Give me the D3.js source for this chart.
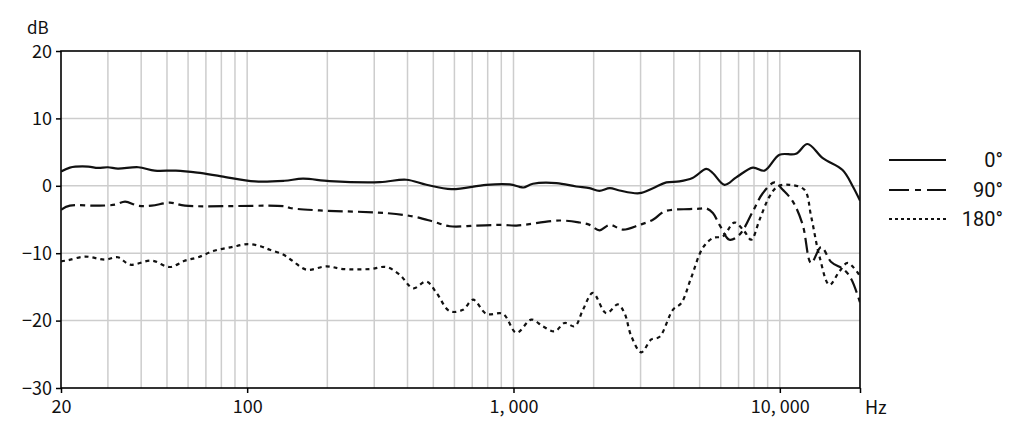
<!DOCTYPE html>
<html><head><meta charset="utf-8">
<script src="https://cdn.jsdelivr.net/npm/d3@7"></script>
<style>body{margin:0;background:#fff}svg{display:block}text{font-family:"Noto Sans CJK JP","Noto Sans",sans-serif;fill:#111}</style>
</head><body>
<svg id="c" width="1024" height="435"></svg>
<script>
// frequency (Hz) and level (dB) pairs
const freq0 = [20,21.6,25.3,27.5,30,32.7,39,45,54,65,80,107,138,162,204,315,396,471,585,790,968,1054,1090,1183,1450,1720,1930,2100,2300,2500,2970,3340,3750,4200,4700,5300,5600,6200,6860,7920,8760,9970,11500,12700,14500,17200,18800,20000];
const db0   = [2.1,2.7,2.85,2.65,2.75,2.55,2.75,2.25,2.25,1.95,1.4,0.65,0.75,1.05,0.7,0.55,0.9,0.15,-0.5,0.15,0.2,-0.15,-0.25,0.3,0.4,-0.1,-0.35,-0.75,-0.35,-0.7,-1.1,-0.35,0.5,0.65,1.15,2.5,1.9,0.15,1.25,2.7,2.25,4.6,4.75,6.2,4.1,2.35,-0.1,-2.2];
const freq90 = [20,21.6,26.8,31.9,34.8,38.9,43.8,51.3,58.4,138.5,145,187,333,420,499,576,726,910,1026,1490,1770,1932,2104,2296,2576,2974,3338,3692,4580,4995,5294,5606,5938,6473,7056,7918,8630,9550,10260,11180,12190,13110,14300,15590,17490,18580,20000];
const db90   = [-3.55,-2.95,-2.95,-2.8,-2.35,-2.95,-2.95,-2.5,-2.95,-3.05,-3.3,-3.65,-4.05,-4.55,-5.3,-6.0,-5.9,-5.8,-5.9,-5.15,-5.45,-5.8,-6.6,-5.8,-6.5,-5.8,-5.05,-3.8,-3.45,-3.4,-3.35,-4.05,-5.8,-8.0,-7.25,-3.8,-1.1,0.5,-0.6,-2.3,-5.8,-11.45,-9.1,-11.3,-12.5,-13.9,-17.3];
const freq180 = [20,21.2,24.6,29.3,32.7,36.3,43.8,51.3,58.4,65.5,75.7,87.4,100.9,113,121.7,136.5,148.8,167,198.6,229,289,333,374,420,471,514,576,646,705,791,913,1026,1167,1290,1428,1556,1698,1823,1986,2231,2466,2612,2768,3018,3290,3536,3967,4266,4650,5140,5606,6110,6760,7370,7812,8390,9140,9820,10870,12370,13110,14090,15350,16740,17990,20000];
const db180   = [-11.2,-11.05,-10.5,-10.95,-10.6,-11.7,-11.1,-12.05,-11.1,-10.6,-9.6,-9.1,-8.65,-9.0,-9.5,-10.2,-11.2,-12.45,-11.95,-12.35,-12.35,-12.05,-13.2,-15.2,-14.2,-15.9,-18.6,-18.4,-16.9,-19.0,-19.0,-21.8,-19.85,-20.85,-21.6,-20.35,-20.85,-18.4,-15.9,-18.9,-17.6,-18.9,-22.3,-24.7,-22.8,-22.4,-18.4,-17.4,-13.6,-9.2,-7.75,-7.5,-5.45,-6.8,-8.0,-5.05,-1.6,-0.1,0.15,-0.6,-4.55,-10.5,-14.7,-12.7,-11.45,-13.4];
const seriesNames = ["0°","90°","180°"];
const yTicks = [20,10,0,-10,-20,-30];
const xLabelVals = [20,100,1000,10000];
const xLabels = ["20","100","1, 000","10, 000"];
const xGrid = [30,40,50,60,70,80,90,100,200,300,400,500,600,700,800,900,1000,2000,3000,4000,5000,6000,7000,8000,9000,10000];

const svg = d3.select("#c");
const L=61,R=860,T=51,B=388;
const x = d3.scaleLog().domain([20,20000]).range([L,R]);
const y = d3.scaleLinear().domain([-30,20]).range([B,T]);

const g = svg.append("g");
g.selectAll(".gx").data(xGrid).join("line")
 .attr("x1",d=>x(d)).attr("x2",d=>x(d)).attr("y1",T).attr("y2",B)
 .attr("stroke","#cdcdcd").attr("stroke-width",1.5);
g.selectAll(".gy").data([10,0,-10,-20]).join("line")
 .attr("x1",L).attr("x2",R).attr("y1",d=>y(d)).attr("y2",d=>y(d))
 .attr("stroke","#cdcdcd").attr("stroke-width",1.5);

// axes
const yAxis = d3.axisLeft(y).tickValues(yTicks).tickSize(5).tickFormat(d=>d<0?"\u2212"+(-d):d);
const ya = svg.append("g").attr("transform",`translate(${L},0)`).call(yAxis);
ya.select(".domain").remove();
ya.selectAll("line").attr("stroke","#000").attr("stroke-width",1.5);
ya.selectAll("text").attr("font-size",18).attr("x",-9).attr("dy","0.34em")
 .style("font-family",'"Noto Sans CJK JP",sans-serif').attr("fill","#111");

const xAxis = d3.axisBottom(x).tickValues(xLabelVals.concat([20000])).tickSize(5)
 .tickFormat(d=>{const i=xLabelVals.indexOf(d);return i>=0?xLabels[i]:"";});
const xa = svg.append("g").attr("transform",`translate(0,${B})`).call(xAxis);
xa.select(".domain").remove();
xa.selectAll("line").attr("stroke","#000").attr("stroke-width",1.5);
xa.selectAll("text").attr("font-size",18).attr("y",12).attr("dy","0.71em")
 .style("font-family",'"Noto Sans CJK JP",sans-serif').attr("fill","#111");

svg.append("rect").attr("x",L).attr("y",T).attr("width",R-L).attr("height",B-T)
 .attr("fill","none").attr("stroke","#000").attr("stroke-width",1.6);

svg.append("text").attr("x",27).attr("y",34).attr("font-size",17).text("dB");
svg.append("text").attr("x",865).attr("y",414).attr("font-size",18).text("Hz");

const line = d3.line().x(d=>x(d[0])).y(d=>y(d[1])).curve(d3.curveCatmullRom.alpha(0.5));
const zip=(f,v)=>f.map((d,i)=>[d,v[i]]);
const series = [
 {data:zip(freq0,db0),dash:null},
 {data:zip(freq90,db90),dash:"15,5,5,5"},
 {data:zip(freq180,db180),dash:"4,4"}
];
const clip = svg.append("clipPath").attr("id","pc").append("rect").attr("x",L).attr("y",T).attr("width",R-L).attr("height",B-T);
svg.append("g").attr("clip-path","url(#pc)").selectAll("path").data(series).join("path")
 .attr("d",d=>line(d.data)).attr("fill","none").attr("stroke","#111").attr("stroke-width",2.2)
 .attr("stroke-dasharray",d=>d.dash);

// legend
const legY=[160,190,219];
const legDash=[null,"20,6,6,6","3,3"];
const lg = svg.append("g");
seriesNames.forEach((n,i)=>{
  lg.append("line").attr("x1",889).attr("x2",946).attr("y1",legY[i]).attr("y2",legY[i])
   .attr("stroke","#111").attr("stroke-width",i==2?2:2).attr("stroke-dasharray",legDash[i]);
  lg.append("text").attr("x",1003).attr("y",legY[i]).attr("dy","0.36em").attr("text-anchor","end")
   .attr("font-size",20).style("font-family",'Roboto,"Noto Sans",sans-serif').text(n);
});
</script>
</body></html>
